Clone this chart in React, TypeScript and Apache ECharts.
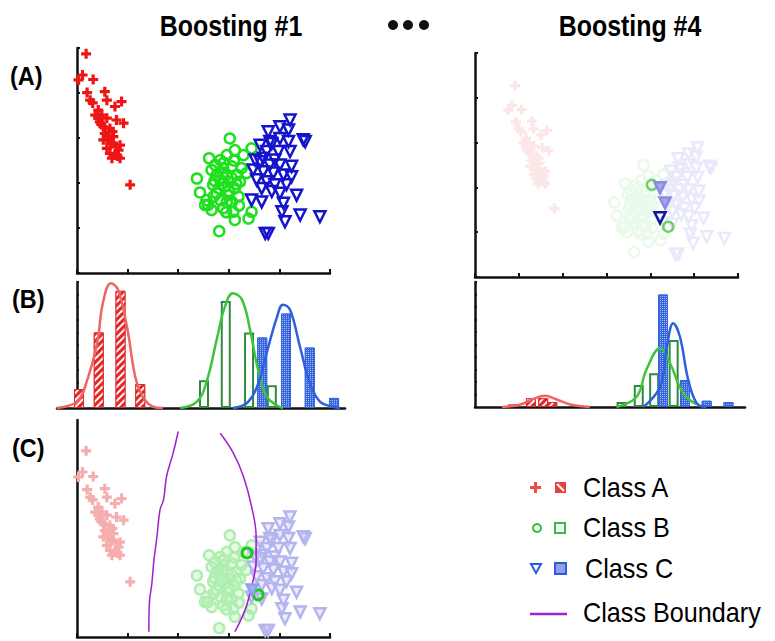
import React, { useEffect, useRef } from "react";
import * as echarts from "echarts";

// ---- Scatter data (feature space, shared by panels A and C) ----
const classA = [
  [0.18, 4.87], [0.03, 4.29], [0.11, 4.4], [0.32, 4.3], [0.2, 4.01], [0.55, 4.03],
  [0.88, 3.81], [0.75, 3.7], [0.31, 3.78], [0.59, 3.84], [0.42, 3.62], [0.49, 3.51],
  [0.36, 3.51], [0.59, 3.44], [0.78, 3.4], [0.92, 3.33], [0.45, 3.36], [0.52, 3.25],
  [0.65, 3.21], [0.55, 3.1], [0.62, 2.99], [0.69, 2.88], [0.78, 2.81], [0.59, 2.77],
  [0.85, 2.84], [0.65, 2.66], [0.75, 2.62], [0.85, 2.55], [0.69, 2.55], [0.52, 2.96],
  [0.72, 3.03], [0.42, 3.44], [0.82, 2.73], [1.05, 1.96], [0.26, 3.84], [0.7, 3.14],
  [0.48, 3.3], [0.6, 3.05], [0.8, 2.6], [0.66, 2.9],
];
const classB = [
  [3.02, 2.99], [3.12, 2.73], [3.45, 2.77], [2.96, 2.62], [2.61, 2.55], [2.83, 2.51],
  [3.06, 2.37], [2.89, 2.33], [3.25, 2.33], [2.66, 2.29], [2.76, 2.18], [2.96, 2.18],
  [3.16, 2.18], [3.35, 2.22], [2.37, 2.1], [2.83, 2.07], [3.02, 2.03], [3.22, 2.03],
  [2.69, 1.96], [2.92, 1.92], [3.12, 1.88], [2.43, 1.79], [2.76, 1.77], [2.99, 1.73],
  [2.56, 1.62], [2.83, 1.62], [3.06, 1.58], [3.19, 1.7], [2.53, 1.51], [2.66, 1.4],
  [2.89, 1.44], [3.09, 1.36], [3.45, 1.36], [3.39, 1.21], [3.12, 1.18], [2.81, 0.93],
  [3.29, 2.62], [2.73, 2.4], [2.59, 1.51], [2.96, 1.58], [2.88, 2.2], [3.05, 2.12],
  [2.8, 1.88], [3.0, 1.82], [2.72, 2.05], [3.15, 1.98], [2.9, 2.45], [3.1, 2.5],
  [2.7, 1.7], [2.95, 1.35], [3.2, 1.5], [2.86, 1.98],
];
const classC = [
  [4.21, 3.4], [4.01, 3.25], [3.78, 3.14], [4.18, 3.18], [4.51, 2.92], [3.62, 2.84],
  [3.85, 2.88], [4.01, 2.99], [4.18, 2.92], [3.75, 2.7], [3.98, 2.7], [4.21, 2.7],
  [3.52, 2.51], [3.68, 2.55], [3.91, 2.51], [3.81, 2.4], [4.01, 2.4], [4.24, 2.37],
  [3.48, 2.29], [3.68, 2.25], [3.88, 2.22], [4.08, 2.18], [4.24, 2.14], [3.55, 2.07],
  [3.75, 2.03], [3.91, 1.96], [4.14, 1.96], [3.65, 1.88], [3.85, 1.81], [4.01, 1.77],
  [4.34, 1.73], [3.45, 1.62], [3.65, 1.58], [4.08, 1.55], [4.05, 1.36], [4.41, 1.29],
  [4.8, 1.25], [4.11, 1.14], [3.72, 0.88], [3.78, 0.88], [3.81, 2.92], [3.62, 2.47],
  [4.47, 2.96],
];

// highlighted (misclassified / re-weighted) samples
const cHighlightB = [[3.36, 2.6], [3.58, 1.67]];
const cHighlightC = [[3.46, 1.78]];
const rHighlightB = [[3.2, 2.52], [3.56, 1.53]];
const rHighlightCMid = [[3.38, 2.45], [3.49, 2.09]];
const rHighlightCDark = [[3.38, 1.74]];

// class boundaries in panel C
const boundary1 = [
  [2.0, 5.3], [1.9, 4.82], [1.77, 4.3], [1.71, 3.78], [1.64, 3.56], [1.58, 2.96],
  [1.52, 2.44], [1.48, 1.93], [1.43, 1.48], [1.42, 0.85],
];
const boundary2 = [
  [2.83, 5.26], [3.09, 4.82], [3.29, 4.3], [3.45, 3.63], [3.54, 2.96], [3.54, 2.44],
  [3.45, 1.85], [3.32, 1.33], [3.12, 0.85],
];

// ---- Histograms (Boosting #1) ----
const histA1 = [[0.04, 0.15], [0.43, 0.6], [0.86, 0.93], [1.25, 0.19]];
const histB1 = [[2.51, 0.22], [2.94, 0.85], [3.4, 0.6], [3.85, 0.18]];
const histC1 = [[3.66, 0.56], [4.13, 0.75], [4.6, 0.48], [5.08, 0.08]];
const curveA1 = [
  [-0.4, 0], [0, 0.05], [0.2, 0.22], [0.4, 0.52], [0.51, 0.83], [0.67, 0.99], [0.81, 0.94],
  [0.99, 0.64], [1.15, 0.25], [1.3, 0.09], [1.5, 0.01], [1.7, 0],
];
const curveB1 = [
  [2.04, 0], [2.37, 0.05], [2.57, 0.22], [2.77, 0.56], [2.92, 0.8], [3.08, 0.91], [3.26, 0.86],
  [3.42, 0.62], [3.58, 0.3], [3.75, 0.09], [3.95, 0.02], [4.07, 0],
];
const curveC1 = [
  [3.08, 0], [3.36, 0.04], [3.56, 0.17], [3.75, 0.44], [3.95, 0.72], [4.07, 0.82], [4.21, 0.78],
  [4.41, 0.48], [4.6, 0.2], [4.8, 0.05], [5.06, 0.01], [5.2, 0],
];

// ---- Histograms (Boosting #4) ----
const histA4 = [[0.13, 0.02], [0.53, 0.07], [0.8, 0.07], [1.0, 0.04]];
const histB4 = [[2.53, 0.04], [2.91, 0.176], [3.25, 0.27], [3.68, 0.536]];
const histC4 = [[3.445, 0.9], [3.93, 0.216], [4.41, 0.05], [4.89, 0.04]];
const curveA4 = [[-0.11, 0], [0.3, 0.02], [0.55, 0.06], [0.84, 0.09], [1.1, 0.06], [1.4, 0.02], [1.83, 0]];
const curveB4 = [[2.42, 0], [2.86, 0.08], [3.08, 0.3], [3.38, 0.47], [3.6, 0.35], [3.89, 0.11], [4.19, 0.02]];
const curveC4 = [[3.01, 0], [3.38, 0.16], [3.53, 0.48], [3.67, 0.67], [3.82, 0.56], [4.0, 0.22], [4.19, 0.03], [4.4, 0]];

const FONT = '"Liberation Sans", Arial, Helvetica, sans-serif';
const PLUS = "path://M3.4,0H6.6V3.4H10V6.6H6.6V10H3.4V6.6H0V3.4H3.4Z";

const axisLine = { show: true, onZero: false, lineStyle: { color: "#111", width: 2.5 } };
const noLabel = { show: false };
const noSplit = { show: false };
const tickIn = (len: number) => ({ show: true, inside: true, length: len, lineStyle: { color: "#111", width: 2 } });

function scatter(data: number[][], xi: number, yi: number, kind: string, color: string, z = 3, fill?: string, bw = 2.5) {
  const base: any = {
    type: "scatter",
    xAxisIndex: xi,
    yAxisIndex: yi,
    data,
    silent: true,
    z,
  };
  if (kind === "plus") {
    base.symbol = PLUS;
    base.symbolSize = 10;
    base.itemStyle = { color, opacity: 1 };
  } else if (kind === "circle") {
    base.symbol = "circle";
    base.symbolSize = 10;
    base.itemStyle = { color: fill || "rgba(0,0,0,0)", borderColor: color, borderWidth: bw, opacity: 1 };
  } else {
    base.symbol = "triangle";
    base.symbolRotate = 180;
    base.symbolSize = 11;
    base.itemStyle = { color: fill || "rgba(0,0,0,0)", borderColor: color, borderWidth: bw, opacity: 1 };
  }
  return base;
}

function bars(data: number[][], xi: number, yi: number, itemStyle: any) {
  return {
    type: "bar",
    xAxisIndex: xi,
    yAxisIndex: yi,
    data,
    barWidth: 10,
    barGap: "-100%",
    silent: true,
    z: 2,
    itemStyle,
  };
}

function curve(data: number[][], xi: number, yi: number, color: string, width = 2.5) {
  return {
    type: "line",
    xAxisIndex: xi,
    yAxisIndex: yi,
    data,
    smooth: 0.4,
    showSymbol: false,
    symbol: "none",
    silent: true,
    z: 4,
    lineStyle: { color, width },
  };
}

const stripeRed = {
  color: "#e02a2a",
  borderColor: "#e02a2a",
  borderWidth: 1,
  decal: {
    symbol: "rect",
    symbolSize: 1,
    dashArrayX: [1, 0],
    dashArrayY: [2, 3],
    rotation: -Math.PI / 4,
    color: "rgba(255,255,255,0.95)",
  },
};
const hollowGreen = { color: "rgba(255,255,255,0)", borderColor: "#2e8b3e", borderWidth: 2 };
const dottedBlue = {
  color: "#3566dd",
  borderColor: "#3566dd",
  borderWidth: 1,
  decal: {
    symbol: "rect",
    symbolSize: 1,
    dashArrayX: [1, 1],
    dashArrayY: [1, 1],
    color: "rgba(255,255,255,0.55)",
  },
};

function text(t: string, x: number, y: number, font: string, align: string, scaleX = 1) {
  return {
    type: "text",
    x,
    y,
    scaleX,
    silent: true,
    style: { text: t, font, fill: "#000", textAlign: align, textVerticalAlign: "middle" },
  };
}

export default function App() {
  const ref = useRef<HTMLDivElement>(null);
  useEffect(() => {
    const chart = echarts.init(ref.current!, null, { renderer: "svg" });
    const option: any = {
      animation: false,
      backgroundColor: "#fff",
      grid: [
        { left: 77, top: 48, width: 253, height: 225 },
        { left: 57, top: 282, width: 288, height: 126 },
        { left: 77, top: 420, width: 253, height: 217 },
        { left: 475, top: 53, width: 263, height: 224 },
        { left: 475, top: 282, width: 270, height: 125 },
      ],
      xAxis: [
        { type: "value", gridIndex: 0, min: 0, max: 5, interval: 1, axisLine, axisTick: tickIn(4), axisLabel: noLabel, splitLine: noSplit },
        { type: "value", gridIndex: 1, min: -0.395, max: 5.296, axisLine, axisTick: { show: false }, axisLabel: noLabel, splitLine: noSplit },
        { type: "value", gridIndex: 2, min: 0, max: 5, interval: 1, axisLine, axisTick: tickIn(4), axisLabel: noLabel, splitLine: noSplit },
        { type: "value", gridIndex: 3, min: 0, max: 6, interval: 1, axisLine, axisTick: tickIn(4), axisLabel: noLabel, splitLine: noSplit },
        { type: "value", gridIndex: 3, position: "top", show: false, min: -0.705, max: 5.101, axisLine: { show: false, onZero: false }, splitLine: noSplit },
        { type: "value", gridIndex: 4, min: -0.705, max: 5.255, axisLine, axisTick: { show: false }, axisLabel: noLabel, splitLine: noSplit },
      ],
      yAxis: [
        { type: "value", gridIndex: 0, min: 0, max: 5, interval: 1, axisLine, axisTick: tickIn(3), axisLabel: noLabel, splitLine: noSplit },
        { type: "value", gridIndex: 1, min: 0, max: 1, interval: 0.1, axisLine: { ...axisLine, onZero: true }, axisTick: tickIn(2), axisLabel: noLabel, splitLine: noSplit },
        { type: "value", gridIndex: 2, min: 0.733, max: 5.555, axisLine, axisTick: { show: false }, axisLabel: noLabel, splitLine: noSplit },
        { type: "value", gridIndex: 3, min: 0, max: 5, interval: 1, axisLine, axisTick: tickIn(3), axisLabel: noLabel, splitLine: noSplit },
        { type: "value", gridIndex: 3, position: "right", show: false, min: 0.34, max: 5.64, axisLine: { show: false, onZero: false }, splitLine: noSplit },
        { type: "value", gridIndex: 4, min: 0, max: 1, interval: 0.1, axisLine, axisTick: tickIn(2), axisLabel: noLabel, splitLine: noSplit },
      ],
      series: [
        // (A) Boosting #1
        scatter(classA, 0, 0, "plus", "#ee1515"),
        scatter(classB, 0, 0, "circle", "#1fe01f"),
        scatter(classC, 0, 0, "tri", "#1414cc", 4),
        // (B) Boosting #1
        bars(histA1, 1, 1, stripeRed),
        bars(histB1, 1, 1, hollowGreen),
        bars(histC1, 1, 1, dottedBlue),
        curve(curveA1, 1, 1, "#ef6464"),
        curve(curveB1, 1, 1, "#3cc43c"),
        curve(curveC1, 1, 1, "#2f60de"),
        // (C) Boosting #1 classification
        scatter(classA, 2, 2, "plus", "#f6adad"),
        scatter(classB, 2, 2, "circle", "#aeeeae", 3, "rgba(190,242,190,0.35)"),
        scatter(classC, 2, 2, "tri", "#b4b4ef", 3, "rgba(200,200,245,0.35)"),
        scatter(cHighlightB, 2, 2, "circle", "#1fc81f", 5, undefined, 3),
        scatter(cHighlightC, 2, 2, "tri", "#8da2e6", 5, "#9db0ec"),
        curve(boundary1, 2, 2, "#a21ecb", 1.5),
        curve(boundary2, 2, 2, "#a21ecb", 1.5),
        // (A) Boosting #4
        scatter(classA, 4, 4, "plus", "#fce6e6"),
        scatter(classB, 4, 4, "circle", "#eafaea"),
        scatter(classC, 4, 4, "tri", "#e9e9fb"),
        scatter(rHighlightB, 4, 4, "circle", "#66d466", 5),
        scatter(rHighlightCMid, 4, 4, "tri", "#8a8ae2", 5, "#a5a5ec"),
        scatter(rHighlightCDark, 4, 4, "tri", "#14149c", 6, undefined, 2.5),
        // (B) Boosting #4
        bars(histA4, 5, 5, stripeRed),
        bars(histB4, 5, 5, hollowGreen),
        bars(histC4, 5, 5, dottedBlue),
        curve(curveA4, 5, 5, "#ef6464"),
        curve(curveB4, 5, 5, "#3cc43c"),
        curve(curveC4, 5, 5, "#2f60de"),
      ],
      graphic: [
        text("Boosting #1", 231, 26, `bold 29px ${FONT}`, "center", 0.86),
        text("Boosting #4", 630, 26, `bold 29px ${FONT}`, "center", 0.86),
        { type: "circle", silent: true, shape: { cx: 393, cy: 25, r: 5 }, style: { fill: "#111" } },
        { type: "circle", silent: true, shape: { cx: 408, cy: 25, r: 5 }, style: { fill: "#111" } },
        { type: "circle", silent: true, shape: { cx: 424, cy: 25, r: 5 }, style: { fill: "#111" } },
        text("(A)", 10, 76, `bold 26px ${FONT}`, "left", 0.9),
        text("(B)", 12, 299, `bold 26px ${FONT}`, "left", 0.9),
        text("(C)", 12, 448, `bold 26px ${FONT}`, "left", 0.9),
        // legend
        { type: "rect", silent: true, shape: { x: 530, y: 486, width: 11, height: 3 }, style: { fill: "#ee4b4b" } },
        { type: "rect", silent: true, shape: { x: 534, y: 482, width: 3, height: 11 }, style: { fill: "#ee4b4b" } },
        { type: "rect", silent: true, shape: { x: 555, y: 482, width: 11, height: 11 }, style: { fill: "#e84040" } },
        { type: "line", silent: true, shape: { x1: 557, y1: 484, x2: 564, y2: 491 }, style: { stroke: "#fff", lineWidth: 2 } },
        text("Class A", 583, 488, `28px ${FONT}`, "left", 0.9),
        { type: "circle", silent: true, shape: { cx: 537, cy: 528, r: 4 }, style: { fill: "none", stroke: "#35c035", lineWidth: 2 } },
        { type: "rect", silent: true, shape: { x: 555, y: 523, width: 10, height: 10 }, style: { fill: "none", stroke: "#33bb33", lineWidth: 2 } },
        text("Class B", 583, 528, `28px ${FONT}`, "left", 0.9),
        { type: "polygon", silent: true, shape: { points: [[531, 564], [541, 564], [536, 573]] }, style: { fill: "none", stroke: "#2d5be0", lineWidth: 2 } },
        { type: "rect", silent: true, shape: { x: 555, y: 563, width: 11, height: 11 }, style: { fill: "#8fa2e0", stroke: "#2d5be0", lineWidth: 2 } },
        text("Class C", 585, 569, `28px ${FONT}`, "left", 0.9),
        { type: "line", silent: true, shape: { x1: 530, y1: 614, x2: 567, y2: 614 }, style: { stroke: "#a020d0", lineWidth: 2.5 } },
        text("Class Boundary", 583, 613, `28px ${FONT}`, "left", 0.9),
      ],
    };
    chart.setOption(option);
    return () => chart.dispose();
  }, []);
  return (
    <div
      ref={ref}
      style={{ position: "fixed", left: 0, top: 0, width: 775, height: 641, background: "#fff" }}
    />
  );
}
